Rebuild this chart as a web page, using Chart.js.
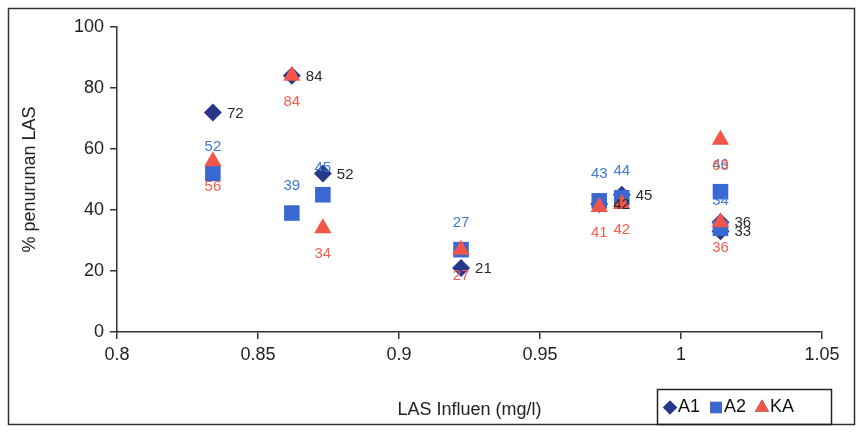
<!DOCTYPE html>
<html>
<head>
<meta charset="utf-8">
<script src="https://cdn.jsdelivr.net/npm/chart.js@4.4.0/dist/chart.umd.min.js"></script>
<style>
  html, body { margin: 0; padding: 0; background: #fff; }
  #wrap { width: 863px; height: 432px; position: relative; }
</style>
</head>
<body>
<div id="wrap"><canvas id="lasChart" width="863" height="432"></canvas></div>
<script>
// LAS influen (mg/l) per sample
const influen = [0.834, 0.862, 0.873, 0.922, 0.971, 0.979, 1.014, 1.014];
// % penurunan LAS
const a1Values = [72, 84, 52, 21, 42, 45, 36, 33];
const a2Values = [52, 39, 45, 27, 43, 44, 46, 34];
const kaValues = [56, 84, 34, 27, 41, 42, 63, 36];
const xTicks = [0.8, 0.85, 0.9, 0.95, 1, 1.05];
const yTicks = [0, 20, 40, 60, 80, 100];

const colA1 = '#27388a';
const colA2 = '#3a68d2';
const colKA = '#f25549';
const fontName = '"Liberation Sans", Arial, sans-serif';

function toPoints(vals) {
    return vals.map((v, i) => ({ x: influen[i], y: v }));
}

// angka di samping titik (kanan / atas / bawah)
const labelPlugin = {
    id: 'pointLabels',
    afterDatasetsDraw(chart) {
        const ctx = chart.ctx;
        ctx.save();
        ctx.font = '15px ' + fontName;
        ctx.textBaseline = 'middle';
        chart.data.datasets.forEach((ds, di) => {
            const meta = chart.getDatasetMeta(di);
            meta.data.forEach((pt, i) => {
                const txt = String(ds.data[i].y);
                if (ds.labelPos === 'right') {
                    ctx.fillStyle = '#2a2a2a';
                    ctx.textAlign = 'left';
                    ctx.fillText(txt, pt.x + 14, pt.y + 1);
                } else if (ds.labelPos === 'top') {
                    ctx.fillStyle = '#3f7ad6';
                    ctx.textAlign = 'center';
                    ctx.fillText(txt, pt.x, pt.y - 27);
                } else {
                    ctx.fillStyle = '#f2604f';
                    ctx.textAlign = 'center';
                    ctx.fillText(txt, pt.x, pt.y + 26);
                }
            });
        });
        ctx.restore();
    }
};

// bingkai luar + kotak legenda
const framePlugin = {
    id: 'frameLegend',
    afterDraw(chart) {
        const ctx = chart.ctx;
        ctx.save();
        ctx.strokeStyle = '#333';
        ctx.lineWidth = 1.5;
        ctx.strokeRect(8.5, 8.5, 846, 416);

        // legend box
        const bx = 657, by = 389, bw = 174, bh = 35;
        ctx.strokeStyle = '#222';
        ctx.lineWidth = 1.5;
        ctx.strokeRect(bx + 0.5, by + 0.5, bw, bh);
        ctx.font = '18px ' + fontName;
        ctx.textBaseline = 'middle';
        ctx.textAlign = 'left';
        const cy = by + bh / 2 + 1;
        let x = bx + 13;
        chart.data.datasets.forEach(ds => {
            Chart.helpers.drawPoint(ctx, {
                pointStyle: ds.pointStyle,
                radius: ds.legendRadius,
                borderWidth: 0
            }, x, cy);
            ctx.fillStyle = ds.backgroundColor;
            ctx.fill();
            ctx.fillStyle = '#111';
            ctx.fillText(ds.label, x + 8, cy);
            x += 8 + ctx.measureText(ds.label).width + 16;
        });
        ctx.restore();
    }
};

const ctx = document.getElementById('lasChart').getContext('2d');
const myChart = new Chart(ctx, {
    type: 'scatter',
    data: {
        datasets: [
            { label: 'A1', data: toPoints(a1Values), pointStyle: 'rectRot', pointRadius: 9, legendRadius: 7,
              backgroundColor: colA1, borderColor: colA1, borderWidth: 0, order: 2, labelPos: 'right' },
            { label: 'A2', data: toPoints(a2Values), pointStyle: 'rect', pointRadius: 11, legendRadius: 8,
              backgroundColor: colA2, borderColor: colA2, borderWidth: 0, order: 1, labelPos: 'top' },
            { label: 'KA', data: toPoints(kaValues), pointStyle: 'triangle', pointRadius: 10, legendRadius: 8,
              backgroundColor: colKA, borderColor: colKA, borderWidth: 0, order: 0, labelPos: 'bottom' }
        ]
    },
    options: {
        responsive: false,
        animation: false,
        layout: { padding: { left: 0, right: 41, top: 27, bottom: 0 } },
        plugins: {
            legend: { display: false },
            tooltip: { enabled: false }
        },
        scales: {
            x: {
                type: 'linear',
                min: 0.8,
                max: 1.05,
                afterFit: s => { s.height = 100; },
                afterBuildTicks: s => { s.ticks = xTicks.map(v => ({ value: v })); },
                ticks: {
                    color: '#222',
                    font: { family: fontName, size: 18 },
                    padding: 5,
                    maxRotation: 0,
                    callback: v => String(Number(v.toFixed(2)))
                },
                grid: { drawOnChartArea: false, drawTicks: true, tickLength: 7, color: '#333', lineWidth: 1.5 },
                border: { color: '#333', width: 1.5 },
                title: {
                    display: true,
                    text: 'LAS Influen (mg/l)',
                    color: '#222',
                    font: { family: fontName, size: 18 },
                    padding: { top: 0, bottom: 11 }
                }
            },
            y: {
                min: 0,
                max: 100,
                afterFit: s => { s.width = 117; },
                afterBuildTicks: s => { s.ticks = yTicks.map(v => ({ value: v })); },
                ticks: {
                    color: '#222',
                    font: { family: fontName, size: 18 },
                    padding: 6
                },
                grid: { drawOnChartArea: false, drawTicks: true, tickLength: 7, color: '#333', lineWidth: 1.5 },
                border: { color: '#333', width: 1.5 },
                title: {
                    display: true,
                    text: '% penurunan LAS',
                    color: '#222',
                    font: { family: fontName, size: 18 },
                    padding: { top: 19, bottom: 0 }
                }
            }
        }
    },
    plugins: [labelPlugin, framePlugin]
});
</script>
</body>
</html>
